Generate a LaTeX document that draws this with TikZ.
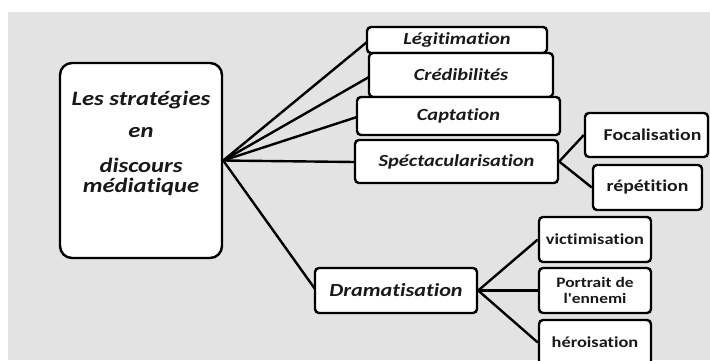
\documentclass[tikz,border=0pt]{standalone}
\usepackage{fontspec}
\setmainfont{Carlito}[FakeStretch=1.2, Ligatures={TeXOff,CommonOff}]
\begin{document}
\begin{tikzpicture}[x=1pt,y=-1pt,
  box/.style={draw=black, line width=2.4pt, fill=white, rounded corners=4pt, inner sep=0pt, text=black!90},
  itl/.style={font=\fontsize{17}{19}\selectfont\bfseries\itshape},
  upr/.style={font=\fontsize{16.5}{19}\selectfont\bfseries},
  mtxt/.style={font=\fontsize{20.5}{23}\selectfont\bfseries\itshape, text=black!90},
  conn/.style={line width=2.4pt, black}]
\useasboundingbox (0,0) rectangle (710,360);
\begin{scope}
\clip (0,0) rectangle (710,360);
\fill[white] (0,0) rectangle (710,360);
\fill[black!11] (8,12) rectangle (710,360);

% main box
\node[box, rounded corners=12pt, minimum width=162pt, minimum height=195pt] (main) at (141,160.5) {};
\node[mtxt] (t1) at (141,100) {Les stratégies};
\node[mtxt] (t2) at (141,133) {en};
\node[mtxt] (t3) at (141,165) {discours};
\node[mtxt] (t4) at (141,187) {médiatique};

\coordinate (hub) at (main.east);
\coordinate (legA) at (367,42);
\coordinate (creA) at (369,77);
\coordinate (capA) at (357,117);
\coordinate (speA) at (355,162);
\coordinate (draA) at (315,289);
\draw[conn] (hub) -- (legA);
\draw[conn] (hub) -- (creA);
\draw[conn] (hub) -- (capA);
\draw[conn] (hub) -- (speA);
\draw[conn] (hub) -- (draA);

\node[box, itl, minimum width=180pt, minimum height=26pt] (leg) at (457,40) {Légitimation};
\node[box, itl, minimum width=184pt, minimum height=44pt] (cre) at (461,75) {Crédibilités};
\node[box, itl, minimum width=203pt, minimum height=38pt] (cap) at (458.5,116) {Captation};
\node[box, itl, minimum width=203pt, minimum height=43pt] (spe) at (456.5,161.5) {Spéctacularisation};

\node[box, upr, minimum width=123pt, minimum height=44pt] (foc) at (646.5,135) {\hspace*{12pt}Focalisation};
\node[box, upr, minimum width=109pt, minimum height=45pt] (rep) at (647.5,187.5) {répétition};
\draw[conn] (spe.east) -- (foc.west);
\draw[conn] (spe.east) -- (rep.west);

\node[box, font=\fontsize{18.5}{21}\selectfont\bfseries\itshape, minimum width=162pt, minimum height=45pt] (dra) at (396,290.5) {Dramatisation};

\node[box, font=\fontsize{15.3}{17}\selectfont\bfseries, minimum width=112pt, minimum height=45pt] (vic) at (595,239.5) {victimisation};
\node[box, font=\fontsize{14.5}{16}\selectfont\bfseries, align=center, minimum width=112pt, minimum height=45pt] (por) at (595,290.5) {Portrait de\\l'ennemi};
\node[box, font=\fontsize{15.3}{17}\selectfont\bfseries, minimum width=112pt, minimum height=45pt] (her) at (595,342.5) {héroisation};
\draw[conn] (dra.east) -- (vic.west);
\draw[conn] (dra.east) -- (por.west);
\draw[conn] (dra.east) -- (her.west);
\end{scope}
\end{tikzpicture}
\end{document}
